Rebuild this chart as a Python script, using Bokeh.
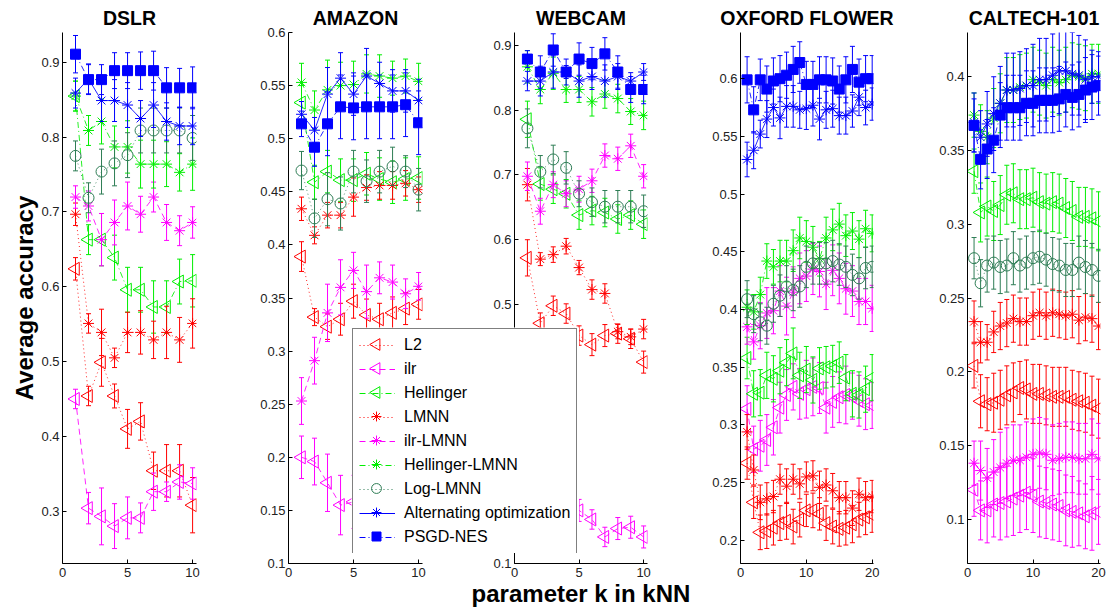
import numpy as np
from bokeh.plotting import figure
from bokeh.models import FixedTicker, Legend, LegendItem, Range1d, GridBox
from bokeh.embed import file_html
from bokeh.resources import INLINE

# ---------------- data ----------------
k10 = [1, 2, 3, 4, 5, 6, 7, 8, 9, 10]
k20 = [1, 2, 3, 4, 5, 6, 7, 8, 9, 10, 11, 12, 13, 14, 15, 16, 17, 18, 19, 20]

methods = ["L2", "ilr", "Hellinger", "LMNN", "ilr-LMNN", "Hellinger-LMNN",
           "Log-LMNN", "Alternating optimization", "PSGD-NES"]

# DSLR
dslr_l2 = [0.624, 0.454, 0.499, 0.454, 0.410, 0.420, 0.354, 0.354, 0.354, 0.308]
dslr_l2_err = [0.015, 0.013, 0.032, 0.016, 0.026, 0.025, 0.025, 0.035, 0.035, 0.037]
dslr_ilr = [0.450, 0.304, 0.293, 0.280, 0.291, 0.291, 0.326, 0.326, 0.339, 0.337]
dslr_ilr_err = [0.013, 0.021, 0.038, 0.030, 0.028, 0.020, 0.025, 0.013, 0.023, 0.021]
dslr_hel = [0.855, 0.663, 0.663, 0.639, 0.596, 0.596, 0.573, 0.573, 0.607, 0.608]
dslr_hel_err = [0.020, 0.020, 0.035, 0.030, 0.030, 0.030, 0.035, 0.035, 0.030, 0.035]
dslr_lmnn = [0.697, 0.551, 0.539, 0.505, 0.539, 0.539, 0.529, 0.539, 0.529, 0.551]
dslr_lmnn_err = [0.015, 0.013, 0.031, 0.013, 0.027, 0.029, 0.025, 0.035, 0.030, 0.033]
dslr_ilrlmnn = [0.720, 0.708, 0.663, 0.686, 0.708, 0.697, 0.720, 0.686, 0.675, 0.686]
dslr_ilrlmnn_err = [0.015, 0.020, 0.035, 0.030, 0.032, 0.024, 0.020, 0.024, 0.020, 0.021]
dslr_hellmnn = [0.855, 0.809, 0.821, 0.787, 0.787, 0.764, 0.764, 0.764, 0.753, 0.764]
dslr_hellmnn_err = [0.020, 0.020, 0.030, 0.028, 0.035, 0.032, 0.032, 0.030, 0.025, 0.035]
dslr_log = [0.775, 0.719, 0.754, 0.765, 0.776, 0.809, 0.809, 0.809, 0.809, 0.799]
dslr_log_err = [0.020, 0.020, 0.030, 0.030, 0.030, 0.030, 0.030, 0.030, 0.030, 0.030]
dslr_alt = [0.859, 0.878, 0.849, 0.849, 0.843, 0.825, 0.843, 0.821, 0.815, 0.815]
dslr_alt_err = [0.020, 0.020, 0.028, 0.028, 0.030, 0.024, 0.030, 0.025, 0.025, 0.025]
dslr_psgd = [0.911, 0.877, 0.877, 0.889, 0.889, 0.889, 0.889, 0.866, 0.866, 0.866]
dslr_psgd_err = [0.025, 0.020, 0.020, 0.024, 0.024, 0.025, 0.026, 0.027, 0.026, 0.028]

# AMAZON
amz_l2 = [0.389, 0.332, 0.323, 0.330, 0.347, 0.334, 0.330, 0.336, 0.340, 0.344]
amz_l2_err = [0.014, 0.008, 0.012, 0.015, 0.016, 0.015, 0.015, 0.015, 0.015, 0.014]
amz_ilr = [0.200, 0.196, 0.176, 0.155, 0.158, 0.155, 0.152, 0.150, 0.148, 0.150]
amz_ilr_err = [0.020, 0.022, 0.027, 0.028, 0.025, 0.025, 0.025, 0.025, 0.025, 0.025]
amz_hel = [0.534, 0.459, 0.469, 0.461, 0.461, 0.467, 0.462, 0.459, 0.462, 0.463]
amz_hel_err = [0.016, 0.016, 0.020, 0.020, 0.020, 0.020, 0.020, 0.020, 0.020, 0.020]
amz_lmnn = [0.434, 0.409, 0.428, 0.428, 0.445, 0.454, 0.456, 0.456, 0.458, 0.452]
amz_lmnn_err = [0.011, 0.008, 0.012, 0.012, 0.018, 0.012, 0.013, 0.013, 0.012, 0.012]
amz_ilrlmnn = [0.253, 0.291, 0.336, 0.360, 0.376, 0.356, 0.369, 0.365, 0.354, 0.361]
amz_ilrlmnn_err = [0.022, 0.022, 0.027, 0.026, 0.017, 0.025, 0.015, 0.016, 0.014, 0.013]
amz_hellmnn = [0.553, 0.527, 0.546, 0.550, 0.551, 0.561, 0.559, 0.557, 0.559, 0.554]
amz_hellmnn_err = [0.018, 0.018, 0.028, 0.022, 0.022, 0.018, 0.020, 0.016, 0.016, 0.017]
amz_log = [0.470, 0.425, 0.443, 0.439, 0.469, 0.460, 0.469, 0.474, 0.469, 0.452]
amz_log_err = [0.018, 0.018, 0.025, 0.025, 0.020, 0.020, 0.020, 0.018, 0.015, 0.020]
amz_alt = [0.523, 0.508, 0.542, 0.557, 0.542, 0.559, 0.552, 0.545, 0.545, 0.536]
amz_alt_err = [0.012, 0.012, 0.025, 0.024, 0.020, 0.026, 0.020, 0.020, 0.020, 0.020]
amz_psgd = [0.514, 0.492, 0.514, 0.530, 0.529, 0.530, 0.530, 0.530, 0.532, 0.515]
amz_psgd_err = [0.012, 0.018, 0.030, 0.030, 0.030, 0.030, 0.030, 0.030, 0.030, 0.030]

# WEBCAM
web_l2 = [0.572, 0.471, 0.498, 0.486, 0.452, 0.438, 0.452, 0.455, 0.447, 0.411]
web_l2_err = [0.028, 0.016, 0.015, 0.015, 0.015, 0.017, 0.017, 0.015, 0.015, 0.017]
web_ilr = [0.260, 0.230, 0.210, 0.195, 0.182, 0.168, 0.141, 0.154, 0.156, 0.141]
web_ilr_err = [0.020, 0.020, 0.020, 0.020, 0.017, 0.015, 0.015, 0.017, 0.017, 0.017]
web_hel = [0.786, 0.686, 0.678, 0.671, 0.638, 0.645, 0.642, 0.632, 0.638, 0.624]
web_hel_err = [0.028, 0.025, 0.022, 0.022, 0.022, 0.022, 0.022, 0.022, 0.022, 0.022]
web_lmnn = [0.685, 0.570, 0.577, 0.590, 0.557, 0.523, 0.517, 0.458, 0.450, 0.462]
web_lmnn_err = [0.025, 0.010, 0.012, 0.012, 0.011, 0.015, 0.015, 0.011, 0.012, 0.015]
web_ilrlmnn = [0.698, 0.644, 0.685, 0.671, 0.678, 0.691, 0.730, 0.725, 0.745, 0.698]
web_ilrlmnn_err = [0.022, 0.020, 0.020, 0.020, 0.020, 0.018, 0.018, 0.018, 0.018, 0.018]
web_hellmnn = [0.867, 0.832, 0.857, 0.832, 0.832, 0.813, 0.825, 0.818, 0.798, 0.792]
web_hellmnn_err = [0.025, 0.022, 0.025, 0.020, 0.020, 0.022, 0.022, 0.022, 0.020, 0.022]
web_log = [0.772, 0.705, 0.724, 0.711, 0.671, 0.658, 0.651, 0.651, 0.651, 0.644]
web_log_err = [0.030, 0.025, 0.022, 0.025, 0.020, 0.022, 0.025, 0.025, 0.025, 0.025]
web_alt = [0.845, 0.845, 0.859, 0.859, 0.845, 0.852, 0.845, 0.852, 0.845, 0.859]
web_alt_err = [0.015, 0.023, 0.025, 0.010, 0.025, 0.020, 0.025, 0.020, 0.013, 0.013]
web_psgd = [0.879, 0.859, 0.893, 0.859, 0.879, 0.872, 0.887, 0.859, 0.832, 0.832]
web_psgd_err = [0.013, 0.025, 0.025, 0.020, 0.025, 0.025, 0.025, 0.025, 0.020, 0.022]

# OXFORD FLOWER
ox_l2 = [0.267, 0.233, 0.207, 0.208, 0.211, 0.215, 0.217, 0.212, 0.218, 0.226,
         0.226, 0.223, 0.215, 0.212, 0.210, 0.211, 0.214, 0.218, 0.220, 0.222]
ox_l2_err = [0.014, 0.014, 0.015, 0.015, 0.015, 0.015, 0.016, 0.015, 0.015, 0.014,
             0.015, 0.014, 0.015, 0.015, 0.015, 0.015, 0.016, 0.015, 0.015, 0.015]
ox_ilr = [0.314, 0.279, 0.282, 0.287, 0.298, 0.315, 0.326, 0.333, 0.327, 0.331,
          0.333, 0.332, 0.315, 0.320, 0.324, 0.326, 0.325, 0.321, 0.318, 0.317]
ox_ilr_err = [0.020, 0.020, 0.022, 0.022, 0.024, 0.022, 0.022, 0.020, 0.022, 0.025,
              0.025, 0.022, 0.022, 0.022, 0.022, 0.025, 0.020, 0.022, 0.022, 0.020]
ox_hel = [0.358, 0.327, 0.328, 0.343, 0.340, 0.347, 0.354, 0.362, 0.343, 0.348,
          0.339, 0.349, 0.350, 0.351, 0.354, 0.341, 0.327, 0.326, 0.331, 0.341]
ox_hel_err = [0.018, 0.020, 0.020, 0.020, 0.020, 0.020, 0.020, 0.022, 0.020, 0.020,
              0.020, 0.018, 0.018, 0.018, 0.018, 0.020, 0.020, 0.020, 0.020, 0.020]
ox_lmnn = [0.294, 0.261, 0.233, 0.236, 0.238, 0.253, 0.247, 0.253, 0.249, 0.255,
           0.256, 0.246, 0.248, 0.243, 0.237, 0.237, 0.228, 0.240, 0.237, 0.238]
ox_lmnn_err = [0.015, 0.013, 0.015, 0.014, 0.014, 0.013, 0.015, 0.013, 0.013, 0.013,
               0.013, 0.014, 0.014, 0.015, 0.014, 0.014, 0.015, 0.014, 0.014, 0.014]
ox_ilrlmnn = [0.385, 0.372, 0.386, 0.397, 0.399, 0.416, 0.403, 0.415, 0.427, 0.429,
              0.435, 0.433, 0.422, 0.434, 0.427, 0.418, 0.416, 0.407, 0.407, 0.401]
ox_ilrlmnn_err = [0.015, 0.015, 0.020, 0.022, 0.020, 0.022, 0.025, 0.022, 0.022, 0.022,
                  0.022, 0.022, 0.022, 0.022, 0.022, 0.022, 0.022, 0.020, 0.020, 0.020]
ox_hellmnn = [0.402, 0.398, 0.413, 0.442, 0.437, 0.442, 0.442, 0.451, 0.462, 0.459,
              0.454, 0.444, 0.462, 0.469, 0.474, 0.464, 0.468, 0.461, 0.470, 0.466]
ox_hellmnn_err = [0.015, 0.015, 0.015, 0.015, 0.015, 0.018, 0.018, 0.018, 0.018, 0.018,
                  0.018, 0.015, 0.018, 0.018, 0.018, 0.018, 0.016, 0.016, 0.016, 0.016]
ox_log = [0.409, 0.396, 0.389, 0.386, 0.405, 0.412, 0.420, 0.417, 0.420, 0.437,
          0.440, 0.440, 0.440, 0.442, 0.439, 0.437, 0.430, 0.427, 0.436, 0.437]
ox_log_err = [0.016, 0.016, 0.016, 0.016, 0.016, 0.018, 0.018, 0.018, 0.018, 0.018,
              0.018, 0.018, 0.018, 0.018, 0.018, 0.018, 0.018, 0.018, 0.018, 0.018]
ox_alt = [0.530, 0.538, 0.552, 0.565, 0.575, 0.566, 0.576, 0.576, 0.573, 0.574,
          0.577, 0.565, 0.573, 0.574, 0.568, 0.568, 0.572, 0.584, 0.575, 0.578]
ox_alt_err = [0.015, 0.016, 0.012, 0.016, 0.016, 0.018, 0.018, 0.018, 0.016, 0.018,
              0.018, 0.018, 0.016, 0.016, 0.016, 0.016, 0.014, 0.016, 0.015, 0.014]
ox_psgd = [0.599, 0.573, 0.599, 0.591, 0.598, 0.600, 0.603, 0.608, 0.614, 0.595,
           0.595, 0.599, 0.599, 0.598, 0.591, 0.599, 0.608, 0.597, 0.600, 0.600]
ox_psgd_err = [0.020, 0.020, 0.018, 0.020, 0.020, 0.020, 0.020, 0.020, 0.018, 0.020,
               0.020, 0.020, 0.020, 0.020, 0.020, 0.020, 0.020, 0.020, 0.020, 0.020]

# CALTECH-101
cal_l2 = [0.204, 0.180, 0.178, 0.179, 0.181, 0.184, 0.186, 0.189, 0.188, 0.185,
          0.185, 0.184, 0.183, 0.183, 0.183, 0.181, 0.180, 0.179, 0.177, 0.175]
cal_l2_err = [0.015, 0.018, 0.018, 0.020, 0.020, 0.020, 0.020, 0.018, 0.020, 0.020,
              0.020, 0.020, 0.020, 0.020, 0.020, 0.020, 0.020, 0.020, 0.020, 0.020]
cal_ilr = [0.120, 0.106, 0.106, 0.110, 0.111, 0.112, 0.114, 0.116, 0.118, 0.116,
           0.112, 0.111, 0.110, 0.109, 0.106, 0.105, 0.104, 0.102, 0.104, 0.105]
cal_ilr_err = [0.018, 0.020, 0.022, 0.022, 0.025, 0.024, 0.025, 0.025, 0.025, 0.025,
               0.024, 0.024, 0.024, 0.024, 0.024, 0.024, 0.022, 0.022, 0.025, 0.022]
cal_hel = [0.336, 0.308, 0.312, 0.309, 0.313, 0.320, 0.321, 0.317, 0.317, 0.318,
           0.315, 0.314, 0.315, 0.314, 0.311, 0.309, 0.305, 0.305, 0.304, 0.302]
cal_hel_err = [0.015, 0.020, 0.020, 0.020, 0.020, 0.020, 0.020, 0.020, 0.020, 0.020,
               0.020, 0.020, 0.020, 0.020, 0.020, 0.020, 0.020, 0.020, 0.020, 0.020]
cal_lmnn = [0.234, 0.220, 0.220, 0.227, 0.231, 0.233, 0.236, 0.234, 0.234, 0.238,
            0.240, 0.238, 0.240, 0.239, 0.238, 0.239, 0.235, 0.237, 0.236, 0.231]
cal_lmnn_err = [0.014, 0.014, 0.012, 0.014, 0.016, 0.016, 0.016, 0.016, 0.016, 0.016,
                0.016, 0.016, 0.016, 0.016, 0.016, 0.016, 0.016, 0.016, 0.016, 0.016]
cal_ilrlmnn = [0.138, 0.133, 0.128, 0.132, 0.135, 0.138, 0.140, 0.140, 0.142, 0.144,
               0.145, 0.144, 0.140, 0.141, 0.142, 0.142, 0.141, 0.141, 0.144, 0.141]
cal_ilrlmnn_err = [0.015, 0.020, 0.020, 0.022, 0.024, 0.024, 0.024, 0.024, 0.024, 0.024,
                   0.024, 0.024, 0.024, 0.024, 0.024, 0.024, 0.024, 0.024, 0.024, 0.024]
cal_hellmnn = [0.374, 0.363, 0.359, 0.372, 0.382, 0.391, 0.391, 0.393, 0.394, 0.398,
               0.396, 0.394, 0.398, 0.396, 0.398, 0.401, 0.400, 0.399, 0.402, 0.402]
cal_hellmnn_err = [0.015, 0.018, 0.018, 0.020, 0.020, 0.022, 0.022, 0.022, 0.022, 0.022,
                   0.022, 0.022, 0.022, 0.022, 0.022, 0.022, 0.022, 0.022, 0.020, 0.020]
cal_log = [0.277, 0.260, 0.272, 0.274, 0.271, 0.272, 0.277, 0.272, 0.274, 0.277,
           0.278, 0.276, 0.273, 0.272, 0.269, 0.269, 0.274, 0.271, 0.269, 0.265]
cal_log_err = [0.014, 0.016, 0.018, 0.018, 0.018, 0.018, 0.018, 0.018, 0.018, 0.018,
               0.018, 0.018, 0.018, 0.018, 0.018, 0.018, 0.018, 0.018, 0.018, 0.018]
cal_alt = [0.369, 0.359, 0.368, 0.375, 0.382, 0.391, 0.391, 0.392, 0.394, 0.394,
           0.398, 0.398, 0.401, 0.404, 0.404, 0.402, 0.401, 0.398, 0.400, 0.400]
cal_alt_err = [0.020, 0.018, 0.022, 0.025, 0.025, 0.025, 0.025, 0.025, 0.025, 0.028,
               0.028, 0.028, 0.028, 0.029, 0.028, 0.028, 0.027, 0.027, 0.018, 0.017]
cal_psgd = [0.367, 0.344, 0.351, 0.357, 0.374, 0.379, 0.379, 0.379, 0.382, 0.382,
            0.384, 0.384, 0.384, 0.385, 0.388, 0.386, 0.388, 0.391, 0.393, 0.394]
cal_psgd_err = [0.018, 0.020, 0.020, 0.022, 0.022, 0.022, 0.022, 0.022, 0.022, 0.022,
                0.022, 0.022, 0.022, 0.022, 0.022, 0.022, 0.022, 0.022, 0.022, 0.020]

dslr_ticks_y = [0.3, 0.4, 0.5, 0.6, 0.7, 0.8, 0.9]
amz_ticks_y = [0.1, 0.15, 0.2, 0.25, 0.3, 0.35, 0.4, 0.45, 0.5, 0.55, 0.6]
web_ticks_y = [0.1, 0.2, 0.3, 0.4, 0.5, 0.6, 0.7, 0.8, 0.9]
ox_ticks_y = [0.2, 0.25, 0.3, 0.35, 0.4, 0.45, 0.5, 0.55, 0.6]
cal_ticks_y = [0.1, 0.15, 0.2, 0.25, 0.3, 0.35, 0.4]
ticks_x10 = [0, 5, 10]
ticks_x20 = [0, 10, 20]

# ---------------- styles ----------------
FONT = "Liberation Sans"
COLORS = ["#ff0000", "#ff00ff", "#00ee00", "#ff0000", "#ff00ff", "#00ee00",
          "#2e7d55", "#0000ff", "#0000ff"]
DASHES = ["1 3", "6 4", "6 3 1 3", "1 3", "6 4", "6 3 1 3", "1 3", "solid", "6 3 1 3"]
MARKS = ["tri", "tri", "tri", "ast", "ast", "ast", "circ", "ast", "sq"]
H = 609
TOP, BOTTOM = 32, 46


def draw_marker(p, x, y, kind, c, scale=1.0):
    if kind == "tri":
        return p.scatter(x, y, marker="triangle", angle=np.pi / 2, size=13 * scale,
                         fill_color=None, line_color=c, line_width=1)
    if kind == "ast":
        return p.scatter(x, y, marker="asterisk", size=11 * scale, line_color=c, line_width=1)
    if kind == "circ":
        return p.scatter(x, y, marker="circle", size=11 * scale, fill_color=None,
                         line_color=c, line_width=1)
    return p.scatter(x, y, marker="square", size=10 * scale, fill_color=c,
                     line_color=c, line_width=1)


def make_panel(title, k, means, errs, xr, yr, yticks, xticks,
               width, bl, br, ylabel=None, xlabel=" "):
    p = figure(width=width, height=H, x_range=Range1d(*xr), y_range=Range1d(*yr),
               min_border_left=bl, min_border_right=br, min_border_top=TOP,
               min_border_bottom=BOTTOM, output_backend="svg", toolbar_location=None,
               title=title)
    p.title.align = "center"
    p.title.text_font = FONT
    p.title.text_font_size = "19.5px"
    p.title.text_font_style = "bold"
    p.title.text_color = "black"
    p.title.standoff = 8
    p.xgrid.visible = False
    p.ygrid.visible = False
    p.outline_line_color = None
    p.background_fill_color = "white"
    p.border_fill_color = "white"
    p.xaxis.ticker = FixedTicker(ticks=xticks)
    p.yaxis.ticker = FixedTicker(ticks=yticks)
    p.yaxis.major_label_overrides = {t: f"{t:g}" for t in yticks}
    for ax in (p.xaxis[0], p.yaxis[0]):
        ax.major_tick_in = 4
        ax.major_tick_out = 0
        ax.minor_tick_in = 0
        ax.minor_tick_out = 0
        ax.axis_line_color = "black"
        ax.major_tick_line_color = "black"
        ax.major_label_text_font = FONT
        ax.major_label_text_font_size = "13px"
        ax.major_label_text_color = "#222222"
    p.yaxis.major_label_standoff = 3
    p.xaxis.major_label_standoff = 4
    p.xaxis.axis_label = xlabel
    p.xaxis.axis_label_text_font = FONT
    p.xaxis.axis_label_text_font_size = "24px"
    p.xaxis.axis_label_text_font_style = "bold"
    p.xaxis.axis_label_text_color = "black"
    p.xaxis.axis_label_standoff = 0
    if ylabel:
        p.yaxis.axis_label = ylabel
        p.yaxis.axis_label_text_font = FONT
        p.yaxis.axis_label_text_font_size = "24px"
        p.yaxis.axis_label_text_font_style = "bold"
        p.yaxis.axis_label_text_color = "black"
        p.yaxis.axis_label_standoff = 0

    kk = np.array(k, dtype=float)
    for i, name in enumerate(methods):
        m = np.array(means[i])
        e = np.array(errs[i])
        c = COLORS[i]
        p.line(kk, m, line_color=c, line_width=1, line_dash=DASHES[i], line_alpha=0.85)
        p.segment(kk, m - e, kk, m + e, line_color=c, line_width=1)
        p.scatter(kk, m - e, marker="dash", size=5, line_color=c, line_width=1)
        p.scatter(kk, m + e, marker="dash", size=5, line_color=c, line_width=1)
        draw_marker(p, kk, m, MARKS[i], c)
    return p


p1 = make_panel("DSLR", k10,
                [dslr_l2, dslr_ilr, dslr_hel, dslr_lmnn, dslr_ilrlmnn, dslr_hellmnn, dslr_log, dslr_alt, dslr_psgd],
                [dslr_l2_err, dslr_ilr_err, dslr_hel_err, dslr_lmnn_err, dslr_ilrlmnn_err, dslr_hellmnn_err, dslr_log_err, dslr_alt_err, dslr_psgd_err],
                (0, 10.3), (0.23, 0.94), dslr_ticks_y, ticks_x10, 230, 62, 34,
                ylabel="Average accuracy")
p2 = make_panel("AMAZON", k10,
                [amz_l2, amz_ilr, amz_hel, amz_lmnn, amz_ilrlmnn, amz_hellmnn, amz_log, amz_alt, amz_psgd],
                [amz_l2_err, amz_ilr_err, amz_hel_err, amz_lmnn_err, amz_ilrlmnn_err, amz_hellmnn_err, amz_log_err, amz_alt_err, amz_psgd_err],
                (0, 10.3), (0.1, 0.6), amz_ticks_y, ticks_x10, 225, 58, 33)
p3 = make_panel("WEBCAM", k10,
                [web_l2, web_ilr, web_hel, web_lmnn, web_ilrlmnn, web_hellmnn, web_log, web_alt, web_psgd],
                [web_l2_err, web_ilr_err, web_hel_err, web_lmnn_err, web_ilrlmnn_err, web_hellmnn_err, web_log_err, web_alt_err, web_psgd_err],
                (0, 10.3), (0.1, 0.92), web_ticks_y, ticks_x10, 240, 59, 48,
                xlabel="parameter k in kNN")
p4 = make_panel("OXFORD FLOWER", k20,
                [ox_l2, ox_ilr, ox_hel, ox_lmnn, ox_ilrlmnn, ox_hellmnn, ox_log, ox_alt, ox_psgd],
                [ox_l2_err, ox_ilr_err, ox_hel_err, ox_lmnn_err, ox_ilrlmnn_err, ox_hellmnn_err, ox_log_err, ox_alt_err, ox_psgd_err],
                (0, 20.2), (0.18, 0.64), ox_ticks_y, ticks_x20, 213, 45, 35)
p5 = make_panel("CALTECH-101", k20,
                [cal_l2, cal_ilr, cal_hel, cal_lmnn, cal_ilrlmnn, cal_hellmnn, cal_log, cal_alt, cal_psgd],
                [cal_l2_err, cal_ilr_err, cal_hel_err, cal_lmnn_err, cal_ilrlmnn_err, cal_hellmnn_err, cal_log_err, cal_alt_err, cal_psgd_err],
                (0, 20.3), (0.07, 0.43), cal_ticks_y, ticks_x20, 199, 59, 7)

# ---------------- legend (overlay figure straddling AMAZON and WEBCAM) ----------------
LW, LH = 228, 226
PAD, GW, GH, SP = 6, 36, 20, 4
pl = figure(width=LW, height=LH, x_range=Range1d(0, LW), y_range=Range1d(0, LH),
            x_axis_type=None, y_axis_type=None, min_border=0,
            output_backend="svg", toolbar_location=None)
pl.xgrid.visible = False
pl.ygrid.visible = False
pl.outline_line_color = None
pl.background_fill_color = "white"
pl.border_fill_alpha = 0.0
items = []
for i, name in enumerate(methods):
    c = COLORS[i]
    lr = pl.line([-20, -10], [-20, -10], line_color=c, line_width=1, line_dash=DASHES[i])
    items.append(LegendItem(label=name, renderers=[lr]))
    cy = LH - (1 + PAD + GH / 2 + i * (GH + SP))
    draw_marker(pl, [1 + PAD + GW / 2], [cy], MARKS[i], c, scale=0.9)
lg = Legend(items=items, location="top_left", margin=1, label_text_font=FONT,
            label_text_font_size="16px", label_text_color="black",
            glyph_width=GW, glyph_height=GH, label_height=GH, label_standoff=9,
            spacing=SP, padding=PAD, border_line_color="black", border_line_width=1,
            background_fill_alpha=0.0)
pl.add_layout(lg)

grid = GridBox(children=[(p1, 0, 0, 3, 1), (p2, 0, 1, 3, 2), (p3, 0, 3, 3, 2),
                         (p4, 0, 5, 3, 1), (p5, 0, 6, 3, 1), (pl, 1, 2, 1, 2)],
               cols=["230px", "121px", "104px", "124px", "116px", "213px", "199px"],
               rows=["327px", "226px", "56px"], spacing=0)

open("out.html", "w").write(file_html(grid, INLINE))
